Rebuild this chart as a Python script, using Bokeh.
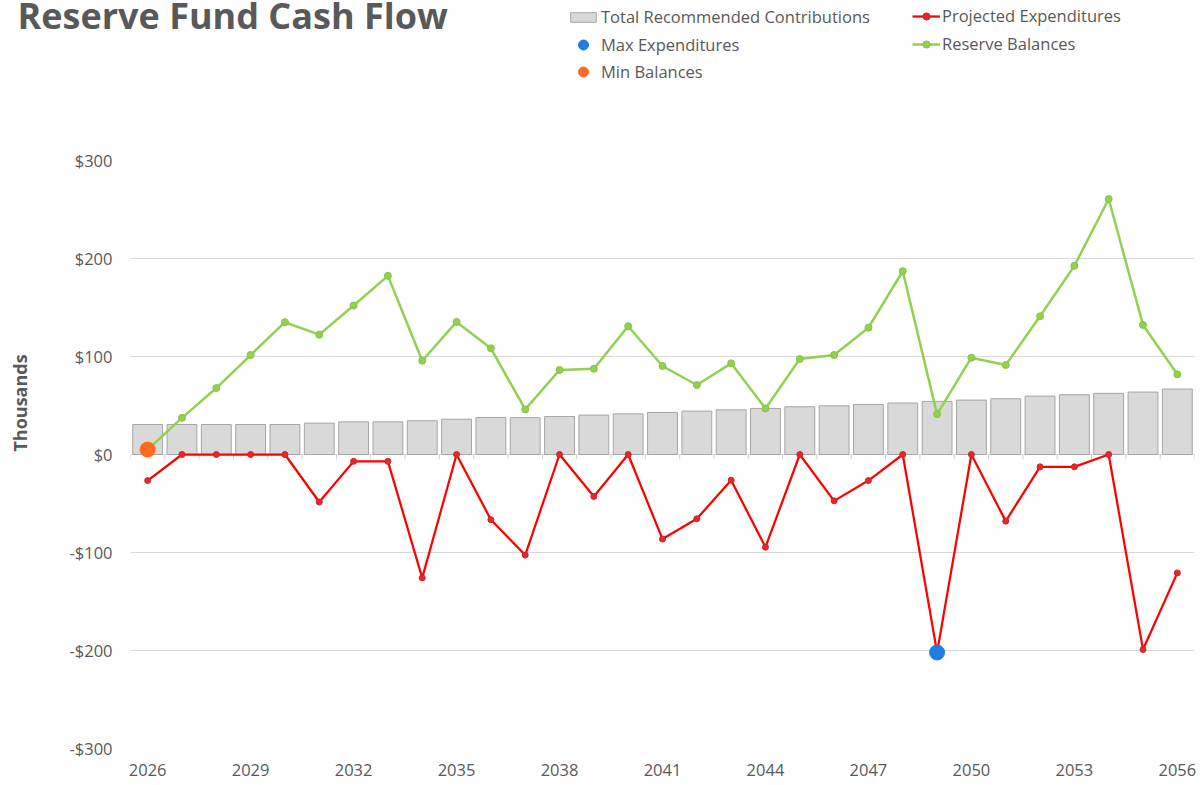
import math
from bokeh.plotting import figure
from bokeh.layouts import column, row
from bokeh.models import (Range1d, FixedTicker, CustomJSTickFormatter, Label,
                          Legend, LegendItem)
from bokeh.embed import file_html
from bokeh.resources import INLINE

# ---- data (thousands of dollars) ----
years = list(range(2026, 2057))
contributions = [30.6, 30.6, 30.6, 30.6, 30.6, 32.0, 33.3, 33.3, 34.5, 36.0,
                 37.8, 37.6, 38.8, 40.2, 41.5, 42.9, 44.3, 45.6, 47.0, 48.7,
                 49.7, 51.1, 52.5, 54.2, 55.5, 56.9, 59.6, 61.0, 62.4, 63.7, 66.8]
expenditures = [-26.6, 0, 0, 0, 0, -48.5, -7, -7, -125.9, 0,
                -66.6, -102.6, 0, -42.8, 0, -86.3, -65.6, -26.2, -94.6, 0,
                -47.3, -26.6, 0, -202, 0, -68, -12.6, -12.6, 0, -199, -120.8]
balances = [5, 37.4, 67.8, 101.5, 135, 122.3, 152, 182.3, 95.7, 135.3,
            108.4, 46, 86.2, 87.5, 130.9, 90.3, 70.9, 93, 47, 97.4,
            101.5, 129.4, 187, 41.2, 98.8, 91.3, 141, 192.5, 260.7, 132.2, 81.8]
max_exp_year = [2049]
max_exp_value = [-202]
min_bal_year = [2026]
min_bal_value = [5]
x_tick_years = [2026, 2029, 2032, 2035, 2038, 2041, 2044, 2047, 2050, 2053, 2056]
y_ticks = [-300, -200, -100, 0, 100, 200, 300]

TEXT = "#595959"
FONT = "Open Sans"

# styles
BAR = dict(fill_color="#d9d9d9", line_color="#a6a6a6", line_width=1)
RED_L = dict(line_color="#ff0000", line_width=2.25)
RED_P = dict(size=6, fill_color="#e8262b", line_color="#c62828", line_width=1)
GRN_L = dict(line_color="#92d050", line_width=2.5)
GRN_P = dict(size=7, fill_color="#92d050", line_color="#86c443", line_width=1)
BLUE = dict(size=15, fill_color="#1f7de0", line_color="#1f7de0")
ORNG = dict(size=15, fill_color="#ff6a21", line_color="#ff6a21")

TOP_H = 140
LEFT_W = 40
MAIN_W = 1163
MAIN_H = 645

# ---------------- main chart ----------------
p = figure(width=MAIN_W, height=MAIN_H, output_backend="svg", toolbar_location=None,
           x_range=Range1d(years[0] - 0.5, years[-1] + 0.5),
           y_range=Range1d(-300, 300),
           min_border_left=90, min_border_right=9,
           min_border_top=20, min_border_bottom=37)
p.outline_line_color = None
p.background_fill_color = "white"
p.border_fill_color = "white"
p.xgrid.grid_line_color = None
p.ygrid.grid_line_color = "#d9d9d9"
p.ygrid.grid_line_width = 1

p.xaxis.ticker = FixedTicker(ticks=x_tick_years)
p.yaxis.ticker = FixedTicker(ticks=y_ticks)
p.yaxis.formatter = CustomJSTickFormatter(
    code="return (tick < 0 ? '-' : '') + '$' + Math.abs(tick).toFixed(0);")
for ax in (p.xaxis, p.yaxis):
    ax.axis_line_color = None
    ax.major_tick_line_color = None
    ax.minor_tick_line_color = None
    ax.major_tick_out = 0
    ax.major_tick_in = 0
    ax.major_label_text_font = FONT
    ax.major_label_text_font_size = "16.5px"
    ax.major_label_text_color = TEXT
p.xaxis.major_label_standoff = 15
p.yaxis.major_label_standoff = 18

p.vbar(x=years, top=contributions, bottom=0, width=0.87, **BAR)

bounds = [y - 0.5 for y in years] + [years[-1] + 0.5]
p.segment(x0=bounds, y0=[0] * len(bounds), x1=bounds, y1=[-5] * len(bounds),
          line_color="#d0d0d0", line_width=1)

p.line(years, expenditures, **RED_L)
p.scatter(years, expenditures, **RED_P)
p.line(years, balances, **GRN_L)
p.scatter(years, balances, **GRN_P)
p.scatter(max_exp_year, max_exp_value, **BLUE)
p.scatter(min_bal_year, min_bal_value, **ORNG)

# ---------------- header: title + legend ----------------
top = figure(width=LEFT_W + MAIN_W, height=TOP_H, output_backend="svg",
             toolbar_location=None, x_axis_type=None, y_axis_type=None,
             x_range=Range1d(0, LEFT_W + MAIN_W), y_range=Range1d(TOP_H, 0),
             min_border=0)
top.outline_line_color = None
top.grid.grid_line_color = None
top.border_fill_color = "white"

top.add_layout(Label(x=17, y=15, text="Reserve Fund Cash Flow", text_font=FONT,
                     text_font_size="36px", text_font_style="bold",
                     text_color=TEXT, text_baseline="alphabetic",
                     text_align="left"))

# legend renderers (their data lie outside this header's ranges)
lb = top.vbar(x=years, top=contributions, bottom=0, width=0.87, **BAR)
lbl = top.scatter(max_exp_year, max_exp_value, **BLUE)
lor = top.scatter(min_bal_year, min_bal_value, **ORNG)
lrl = top.line(years, expenditures, **RED_L)
lrp = top.scatter(years, expenditures, **RED_P)
lgl = top.line(years, balances, **GRN_L)
lgp = top.scatter(years, balances, **GRN_P)

common = dict(label_text_font=FONT, label_text_font_size="16.5px",
              label_text_color=TEXT, padding=0, margin=0,
              border_line_color=None, background_fill_alpha=0,
              label_standoff=2)
legA = Legend(items=[
    LegendItem(label="Total Recommended Contributions", renderers=[lb]),
], location=(567, TOP_H - 28), glyph_width=32, glyph_height=12,
    label_height=12, spacing=0, **common)
legB = Legend(items=[
    LegendItem(label="Max Expenditures", renderers=[lbl]),
    LegendItem(label="Min Balances", renderers=[lor]),
], location=(567, TOP_H - 32 - 52), glyph_width=32, glyph_height=25,
    label_height=25, spacing=2, **common)
legC = Legend(items=[
    LegendItem(label="Projected Expenditures", renderers=[lrl, lrp]),
    LegendItem(label="Reserve Balances", renderers=[lgl, lgp]),
], location=(912, TOP_H - 55), glyph_width=28, glyph_height=18,
    label_height=18, spacing=5, **common)
top.add_layout(legA)
top.add_layout(legB)
top.add_layout(legC)

# ---------------- left strip: axis title ----------------
left = figure(width=LEFT_W, height=MAIN_H, output_backend="svg",
              toolbar_location=None, x_axis_type=None, y_axis_type=None,
              x_range=Range1d(0, LEFT_W), y_range=Range1d(MAIN_H, 0),
              min_border=0)
left.outline_line_color = None
left.grid.grid_line_color = None
left.border_fill_color = "white"
left.add_layout(Label(x=19.5, y=406 - TOP_H, text="Thousands", text_font=FONT,
                      text_font_size="18px", text_font_style="bold",
                      text_color=TEXT, text_baseline="middle",
                      text_align="center", angle=math.pi / 2))

layout = column(top, row(left, p, spacing=0), spacing=0)
open("out.html", "w").write(file_html(layout, INLINE))
